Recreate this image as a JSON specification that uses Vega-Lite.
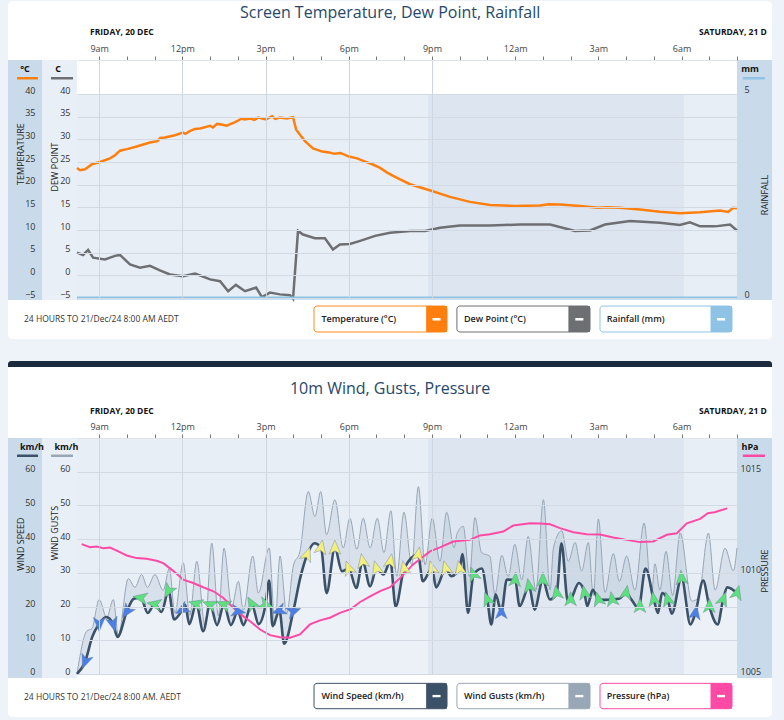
{
"$schema": "https://vega.github.io/schema/vega-lite/v6.json",
"background": "#eef2f9",
"padding": {"left": 8, "top": 0, "right": 12, "bottom": 4},
"config": {"view": {"stroke": null}, "font": "Open Sans", "axis": {"labelFont": "Open Sans"}},
"datasets": {
"one": [{}],
"temp": [{"h":8.2,"t":23.7},{"h":8.31,"t":23.2},{"h":8.49,"t":23.4},{"h":8.74,"t":24.5},{"h":9.03,"t":25.0},{"h":9.39,"t":25.8},{"h":9.57,"t":26.5},{"h":9.75,"t":27.5},{"h":10.04,"t":27.9},{"h":10.29,"t":28.3},{"h":10.83,"t":29.3},{"h":11.1,"t":29.6},{"h":11.2,"t":30.3},{"h":11.37,"t":30.4},{"h":11.73,"t":30.9},{"h":12.02,"t":31.5},{"h":12.1,"t":31.2},{"h":12.27,"t":31.8},{"h":12.45,"t":32.3},{"h":12.64,"t":32.4},{"h":13.0,"t":33.0},{"h":13.1,"t":32.6},{"h":13.25,"t":33.4},{"h":13.45,"t":33.2},{"h":13.6,"t":33.0},{"h":13.9,"t":33.8},{"h":14.15,"t":34.6},{"h":14.25,"t":34.4},{"h":14.44,"t":34.6},{"h":14.6,"t":34.3},{"h":14.73,"t":34.8},{"h":15.02,"t":34.4},{"h":15.23,"t":35.1},{"h":15.35,"t":34.5},{"h":15.52,"t":34.8},{"h":15.77,"t":34.6},{"h":15.99,"t":34.9},{"h":16.1,"t":32.2},{"h":16.24,"t":31.0},{"h":16.42,"t":29.6},{"h":16.71,"t":28.0},{"h":17.04,"t":27.3},{"h":17.3,"t":27.1},{"h":17.5,"t":26.8},{"h":17.7,"t":27.0},{"h":18.01,"t":26.2},{"h":18.3,"t":25.8},{"h":18.59,"t":25.1},{"h":18.85,"t":24.5},{"h":19.13,"t":23.7},{"h":19.4,"t":22.6},{"h":19.67,"t":21.7},{"h":20.21,"t":20.1},{"h":21.0,"t":18.6},{"h":21.65,"t":17.3},{"h":22.37,"t":16.2},{"h":23.09,"t":15.5},{"h":23.99,"t":15.3},{"h":24.9,"t":15.4},{"h":25.2,"t":15.7},{"h":25.62,"t":15.6},{"h":26.34,"t":15.3},{"h":26.99,"t":14.9},{"h":27.3,"t":15.0},{"h":27.78,"t":14.9},{"h":28.5,"t":14.5},{"h":29.22,"t":14.0},{"h":29.94,"t":13.7},{"h":30.67,"t":13.9},{"h":31.39,"t":14.3},{"h":31.68,"t":14.0},{"h":31.86,"t":14.9},{"h":32.0,"t":14.8}],
"dew": [{"h":8.2,"d":5.0},{"h":8.42,"d":4.5},{"h":8.6,"d":5.6},{"h":8.78,"d":3.9},{"h":9.21,"d":3.5},{"h":9.57,"d":4.3},{"h":9.75,"d":4.5},{"h":10.11,"d":2.4},{"h":10.47,"d":1.7},{"h":10.83,"d":2.1},{"h":11.19,"d":1.1},{"h":11.55,"d":0.2},{"h":12.02,"d":-0.2},{"h":12.46,"d":0.4},{"h":13.0,"d":-0.9},{"h":13.36,"d":-1.3},{"h":13.65,"d":-3.5},{"h":13.93,"d":-2.1},{"h":14.26,"d":-3.5},{"h":14.66,"d":-2.7},{"h":14.87,"d":-4.8},{"h":15.16,"d":-3.8},{"h":15.52,"d":-4.2},{"h":15.88,"d":-4.4},{"h":15.99,"d":-5.2},{"h":16.17,"d":9.8},{"h":16.35,"d":9.0},{"h":16.78,"d":8.2},{"h":17.14,"d":8.2},{"h":17.43,"d":5.7},{"h":17.68,"d":6.8},{"h":18.04,"d":6.9},{"h":18.41,"d":7.6},{"h":18.95,"d":8.7},{"h":19.49,"d":9.4},{"h":20.21,"d":9.8},{"h":20.75,"d":9.8},{"h":21.29,"d":10.5},{"h":22.01,"d":11.0},{"h":23.09,"d":11.0},{"h":24.18,"d":11.2},{"h":25.26,"d":11.2},{"h":26.16,"d":9.8},{"h":26.7,"d":9.9},{"h":27.24,"d":11.2},{"h":28.14,"d":12.0},{"h":29.22,"d":11.6},{"h":29.94,"d":11.1},{"h":30.3,"d":11.7},{"h":30.67,"d":10.8},{"h":31.21,"d":10.8},{"h":31.75,"d":11.2},{"h":32.0,"d":9.9}],
"rain": [{"h":8.2,"r":0},{"h":32.0,"r":0}],
"speed": [{"h":8.2,"s":0},{"h":8.5,"s":3.8},{"h":8.75,"s":11},{"h":9.0,"s":14.9},{"h":9.25,"s":16.9},{"h":9.5,"s":14.9},{"h":9.66,"s":11},{"h":10.0,"s":18.6},{"h":10.25,"s":22.3},{"h":10.5,"s":22.6},{"h":10.75,"s":18.1},{"h":11.0,"s":20.7},{"h":11.25,"s":18.4},{"h":11.5,"s":24.7},{"h":11.7,"s":16.2},{"h":12.0,"s":19.1},{"h":12.1,"s":20.5},{"h":12.25,"s":14.8},{"h":12.5,"s":20.8},{"h":12.75,"s":12.7},{"h":13.0,"s":20.6},{"h":13.25,"s":14.5},{"h":13.5,"s":20.6},{"h":13.75,"s":14.5},{"h":14.0,"s":18.6},{"h":14.2,"s":14.5},{"h":14.5,"s":20.8},{"h":14.75,"s":14.8},{"h":15.0,"s":20.6},{"h":15.13,"s":27.7},{"h":15.25,"s":14.2},{"h":15.5,"s":18.8},{"h":15.67,"s":9},{"h":16.0,"s":18.6},{"h":16.25,"s":28.5},{"h":16.5,"s":35.4},{"h":16.76,"s":38.8},{"h":17.0,"s":37.5},{"h":17.2,"s":24},{"h":17.5,"s":37.4},{"h":17.75,"s":30.5},{"h":18.0,"s":31.3},{"h":18.27,"s":25.5},{"h":18.5,"s":33.4},{"h":18.77,"s":26},{"h":19.0,"s":31.3},{"h":19.25,"s":29.5},{"h":19.5,"s":33.4},{"h":19.69,"s":20},{"h":20.0,"s":31.3},{"h":20.5,"s":35.4},{"h":20.67,"s":27.5},{"h":21.0,"s":31.3},{"h":21.15,"s":25.7},{"h":21.5,"s":31.3},{"h":21.7,"s":29},{"h":22.0,"s":31.3},{"h":22.1,"s":35.6},{"h":22.3,"s":18.1},{"h":22.5,"s":29.5},{"h":22.8,"s":31.3},{"h":23.0,"s":22.1},{"h":23.14,"s":14.7},{"h":23.3,"s":23.6},{"h":23.5,"s":18.3},{"h":23.7,"s":28},{"h":24.0,"s":27.9},{"h":24.16,"s":20.1},{"h":24.5,"s":26},{"h":24.7,"s":19.1},{"h":25.0,"s":27.9},{"h":25.25,"s":22.1},{"h":25.5,"s":24},{"h":25.67,"s":38.8},{"h":25.9,"s":21.6},{"h":26.0,"s":22.1},{"h":26.3,"s":27},{"h":26.5,"s":24},{"h":26.6,"s":20.1},{"h":26.8,"s":25},{"h":27.0,"s":22.1},{"h":27.25,"s":22},{"h":27.5,"s":22.1},{"h":27.75,"s":22.3},{"h":28.0,"s":24},{"h":28.2,"s":22},{"h":28.45,"s":19.5},{"h":28.7,"s":31.3},{"h":29.0,"s":22.1},{"h":29.15,"s":18.1},{"h":29.3,"s":24},{"h":29.5,"s":22.1},{"h":29.65,"s":17.9},{"h":30.0,"s":28.5},{"h":30.32,"s":14.7},{"h":30.5,"s":18.1},{"h":30.78,"s":27.7},{"h":31.0,"s":20.1},{"h":31.3,"s":14.7},{"h":31.5,"s":22.1},{"h":31.65,"s":25.7},{"h":32.0,"s":24}],
"gust": [{"h":8.2,"g":0},{"h":8.55,"g":12.7},{"h":8.74,"g":13.5},{"h":9.0,"g":22.1},{"h":9.27,"g":16.7},{"h":9.51,"g":22.1},{"h":9.69,"g":11.5},{"h":10.05,"g":28.3},{"h":10.29,"g":25.7},{"h":10.53,"g":29.5},{"h":10.74,"g":25.7},{"h":11.01,"g":29.5},{"h":11.31,"g":24.8},{"h":11.53,"g":31.3},{"h":11.73,"g":18.1},{"h":12.03,"g":33},{"h":12.27,"g":17.4},{"h":12.52,"g":33.4},{"h":12.82,"g":14},{"h":13.06,"g":38.8},{"h":13.3,"g":17.2},{"h":13.5,"g":37.3},{"h":13.78,"g":20},{"h":14.02,"g":27.5},{"h":14.2,"g":19},{"h":14.54,"g":35},{"h":14.74,"g":24},{"h":15.13,"g":37.4},{"h":15.34,"g":14.4},{"h":15.52,"g":35},{"h":15.76,"g":18},{"h":16.0,"g":32},{"h":16.24,"g":36.4},{"h":16.54,"g":54.1},{"h":16.78,"g":46.7},{"h":16.99,"g":54.1},{"h":17.2,"g":41.3},{"h":17.5,"g":51.7},{"h":17.8,"g":37.4},{"h":18.04,"g":46.2},{"h":18.29,"g":37},{"h":18.52,"g":46.2},{"h":18.77,"g":37.4},{"h":19.03,"g":46.2},{"h":19.27,"g":36},{"h":19.52,"g":48.4},{"h":19.73,"g":29},{"h":19.99,"g":48},{"h":20.27,"g":32.4},{"h":20.51,"g":55.6},{"h":20.75,"g":32.4},{"h":21.01,"g":46.2},{"h":21.29,"g":33.4},{"h":21.53,"g":48},{"h":21.8,"g":37.4},{"h":21.9,"g":41.5},{"h":22.13,"g":43.8},{"h":22.35,"g":28.9},{"h":22.55,"g":46.4},{"h":22.79,"g":36},{"h":23.09,"g":34.9},{"h":23.27,"g":23.6},{"h":23.52,"g":35.2},{"h":23.75,"g":28.9},{"h":23.99,"g":38.5},{"h":24.24,"g":27.9},{"h":24.47,"g":40.8},{"h":24.75,"g":24.9},{"h":25.02,"g":51.7},{"h":25.26,"g":24.9},{"h":25.38,"g":37.4},{"h":25.68,"g":42.5},{"h":25.92,"g":33.4},{"h":26.16,"g":39},{"h":26.4,"g":30.6},{"h":26.64,"g":39},{"h":26.82,"g":23.3},{"h":27.0,"g":46},{"h":27.24,"g":24.2},{"h":27.54,"g":35.7},{"h":27.76,"g":27.5},{"h":28.02,"g":35},{"h":28.32,"g":24.9},{"h":28.65,"g":44.8},{"h":28.92,"g":23.6},{"h":29.04,"g":32.7},{"h":29.22,"g":24.9},{"h":29.44,"g":36.4},{"h":29.68,"g":23.3},{"h":29.95,"g":41.8},{"h":30.37,"g":21.6},{"h":30.61,"g":22.6},{"h":30.97,"g":41.8},{"h":31.21,"g":24.9},{"h":31.57,"g":37.3},{"h":31.87,"g":30.6},{"h":32.0,"g":37.4}],
"arrows": [{"h":8.5,"s":3.8,"dir":200},{"h":9.0,"s":14.9,"dir":180},{"h":9.5,"s":14.9,"dir":165},{"h":10.0,"s":18.6,"dir":215},{"h":10.5,"s":22.6,"dir":280},{"h":11.0,"s":20.7,"dir":280},{"h":11.5,"s":24.7,"dir":210},{"h":12.0,"s":19.1,"dir":240},{"h":12.5,"s":20.8,"dir":285},{"h":13.0,"s":20.6,"dir":290},{"h":13.5,"s":20.6,"dir":290},{"h":14.0,"s":18.6,"dir":100},{"h":14.5,"s":20.8,"dir":330},{"h":15.0,"s":20.6,"dir":110},{"h":15.5,"s":18.8,"dir":250},{"h":16.0,"s":18.6,"dir":70},{"h":16.5,"s":35.4,"dir":20},{"h":17.0,"s":37.5,"dir":10},{"h":17.5,"s":37.4,"dir":0},{"h":18.0,"s":31.3,"dir":340},{"h":18.5,"s":33.4,"dir":350},{"h":19.0,"s":31.3,"dir":345},{"h":19.5,"s":33.4,"dir":10},{"h":20.0,"s":31.3,"dir":350},{"h":20.5,"s":35.4,"dir":10},{"h":21.0,"s":31.3,"dir":345},{"h":21.5,"s":31.3,"dir":345},{"h":22.0,"s":31.3,"dir":350},{"h":22.5,"s":29.5,"dir":340},{"h":23.0,"s":22.1,"dir":340},{"h":23.5,"s":18.3,"dir":0},{"h":24.0,"s":27.9,"dir":5},{"h":24.5,"s":26,"dir":350},{"h":25.0,"s":27.9,"dir":0},{"h":25.5,"s":24,"dir":350},{"h":26.0,"s":22.1,"dir":0},{"h":26.5,"s":24,"dir":350},{"h":27.0,"s":22.1,"dir":345},{"h":27.5,"s":22.1,"dir":350},{"h":28.0,"s":24,"dir":10},{"h":28.5,"s":20.1,"dir":0},{"h":29.0,"s":22.1,"dir":350},{"h":29.5,"s":22.1,"dir":345},{"h":30.0,"s":28.5,"dir":355},{"h":30.5,"s":18.1,"dir":10},{"h":31.0,"s":20.1,"dir":0},{"h":31.5,"s":22.1,"dir":20},{"h":32.0,"s":24,"dir":15}],
"pres": [{"h":8.37,"p":1011.42},{"h":8.67,"p":1011.27},{"h":8.91,"p":1011.3},{"h":9.15,"p":1011.22},{"h":9.39,"p":1011.25},{"h":9.69,"p":1011.06},{"h":9.99,"p":1010.86},{"h":10.35,"p":1010.73},{"h":10.71,"p":1010.7},{"h":11.07,"p":1010.6},{"h":11.31,"p":1010.48},{"h":11.67,"p":1010.1},{"h":12.03,"p":1009.66},{"h":12.39,"p":1009.5},{"h":12.75,"p":1009.29},{"h":13.12,"p":1009.09},{"h":13.48,"p":1008.76},{"h":13.72,"p":1008.43},{"h":14.08,"p":1007.97},{"h":14.44,"p":1007.61},{"h":14.8,"p":1007.2},{"h":15.16,"p":1006.92},{"h":15.52,"p":1006.82},{"h":15.88,"p":1006.79},{"h":16.24,"p":1006.96},{"h":16.6,"p":1007.45},{"h":16.96,"p":1007.65},{"h":17.32,"p":1007.78},{"h":17.68,"p":1008.02},{"h":18.05,"p":1008.19},{"h":18.41,"p":1008.56},{"h":18.77,"p":1008.84},{"h":19.13,"p":1009.1},{"h":19.49,"p":1009.29},{"h":19.85,"p":1009.74},{"h":20.33,"p":1010.43},{"h":20.93,"p":1011.06},{"h":21.29,"p":1011.26},{"h":21.77,"p":1011.55},{"h":22.37,"p":1011.63},{"h":22.73,"p":1011.85},{"h":23.09,"p":1011.91},{"h":23.57,"p":1012.04},{"h":23.93,"p":1012.34},{"h":24.54,"p":1012.45},{"h":24.9,"p":1012.44},{"h":25.26,"p":1012.4},{"h":25.62,"p":1012.21},{"h":26.1,"p":1012.01},{"h":26.58,"p":1011.91},{"h":27.06,"p":1011.9},{"h":27.54,"p":1011.75},{"h":28.02,"p":1011.63},{"h":28.5,"p":1011.52},{"h":28.98,"p":1011.55},{"h":29.47,"p":1011.88},{"h":29.83,"p":1011.96},{"h":30.19,"p":1012.45},{"h":30.67,"p":1012.67},{"h":30.95,"p":1012.95},{"h":31.19,"p":1013.0},{"h":31.65,"p":1013.19}]
},
"vconcat": [
{
"width": 660, "height": 238,
"layer": [
{
"layer": [
{"data": {"name": "one"}, "mark": {"type": "rect", "fill": "#ffffff", "cornerRadius": 4}, "encoding": {"x": {"datum": 5.712, "type": "quantitative", "scale": {"domain": [8.2, 32], "nice": false, "zero": false}, "axis": null}, "x2": {"datum": 33.263}, "y": {"datum": 60.52, "type": "quantitative", "scale": {"domain": [-5, 47.5], "nice": false, "zero": false}, "axis": null}, "y2": {"datum": -14.05}}},
{"data": {"name": "one"}, "mark": {"type": "rect", "fill": "#c9dbea"}, "encoding": {"x": {"datum": 5.712, "type": "quantitative", "axis": null}, "x2": {"datum": 6.938}, "y": {"datum": 47.5, "type": "quantitative", "axis": null}, "y2": {"datum": -5.44}}},
{"data": {"name": "one"}, "mark": {"type": "rect", "fill": "#e9eff7"}, "encoding": {"x": {"datum": 6.938, "type": "quantitative", "axis": null}, "x2": {"datum": 8.2}, "y": {"datum": 47.5, "type": "quantitative", "axis": null}, "y2": {"datum": -5.44}}},
{"data": {"name": "one"}, "mark": {"type": "rect", "fill": "#c9dbea"}, "encoding": {"x": {"datum": 32.0, "type": "quantitative", "axis": null}, "x2": {"datum": 33.263}, "y": {"datum": 47.5, "type": "quantitative", "axis": null}, "y2": {"datum": -5.44}}},
{"data": {"name": "one"}, "mark": {"type": "rect", "fill": "#e8eef6"}, "encoding": {"x": {"datum": 8.2, "type": "quantitative", "axis": null}, "x2": {"datum": 32.0}, "y": {"datum": 40, "type": "quantitative", "axis": null}, "y2": {"datum": -5}}},
{"data": {"name": "one"}, "mark": {"type": "rect", "fill": "#96abc2", "opacity": 0.12}, "encoding": {"x": {"datum": 20.858, "type": "quantitative", "axis": null}, "x2": {"datum": 30.09}, "y": {"datum": 40, "type": "quantitative", "axis": null}, "y2": {"datum": -5}}},
{"data": {"name": "temp"}, "mark": {"type": "line", "stroke": "#ff7f0e", "strokeWidth": 2.5}, "encoding": {
  "x": {"field": "h", "type": "quantitative", "scale": {"domain": [8.2, 32], "nice": false, "zero": false}, "axis": {"orient": "top", "values": [9,10,11,12,13,14,15,16,17,18,19,20,21,22,23,24,25,26,27,28,29,30,31,32], "labelExpr": "datum.value % 3 != 0 ? '' : (datum.value % 24 == 0 ? '12am' : datum.value % 24 == 12 ? '12pm' : (datum.value % 12) + (datum.value % 24 < 12 ? 'am' : 'pm'))", "labelOverlap": false, "labelFlush": false, "labelFontSize": 9, "labelColor": "#444", "labelPadding": 3, "tickSize": 4, "tickColor": "#777", "domain": true, "domainColor": "#dfe4ea", "grid": true, "gridColor": {"condition": {"test": "datum.value % 3 == 0 && datum.value <= 21", "value": "#cfd6df"}, "value": "rgba(0,0,0,0)"}, "title": null, "zindex": 1}},
  "y": {"field": "t", "type": "quantitative", "scale": {"domain": [-5, 47.5], "nice": false, "zero": false}, "axis": {"orient": "left", "offset": 35, "values": [-5,0,5,10,15,20,25,30,35,40], "domain": false, "ticks": false, "tickSize": 0, "grid": false, "labelPadding": 7, "labelOffset": -4, "labelFontSize": 9, "labelColor": "#333", "title": null, "zindex": 1}}}},
{"data": {"name": "dew"}, "mark": {"type": "line", "stroke": "#6d6f72", "strokeWidth": 2.5}, "encoding": {
  "x": {"field": "h", "type": "quantitative", "axis": null},
  "y": {"field": "d", "type": "quantitative", "axis": {"orient": "left", "offset": 0, "values": [-5,0,5,10,15,20,25,30,35,40], "domain": false, "ticks": false, "tickSize": 0, "grid": true, "gridColor": "#d3dae3", "labelPadding": 7, "labelOffset": -4, "labelFontSize": 9, "labelColor": "#333", "title": null, "zindex": 1}}}},
{"data": {"name": "one"}, "mark": {"type": "text", "text": "Screen Temperature, Dew Point, Rainfall", "fontSize": 16, "color": "#28486b", "align": "center", "baseline": "middle"}, "encoding": {"x": {"datum": 19.49, "type": "quantitative", "axis": null}, "y": {"datum": 57.87, "type": "quantitative", "axis": null}}},
{"data": {"name": "one"}, "mark": {"type": "text", "text": "FRIDAY, 20 DEC", "fontSize": 8.5, "fontWeight": "bold", "color": "#111", "align": "left", "baseline": "middle"}, "encoding": {"x": {"datum": 8.669, "type": "quantitative", "axis": null}, "y": {"datum": 53.68, "type": "quantitative", "axis": null}}},
{"data": {"name": "one"}, "mark": {"type": "text", "text": "SATURDAY, 21 DEC", "fontSize": 8.5, "fontWeight": "bold", "color": "#111", "align": "left", "baseline": "middle", "limit": 71.5, "ellipsis": "\u200b"}, "encoding": {"x": {"datum": 30.63, "type": "quantitative", "axis": null}, "y": {"datum": 53.68, "type": "quantitative", "axis": null}}},
{"data": {"name": "one"}, "mark": {"type": "text", "text": "°C", "fontSize": 9, "fontWeight": "bold", "color": "#111", "align": "center", "baseline": "middle"}, "encoding": {"x": {"datum": 6.325, "type": "quantitative", "axis": null}, "y": {"datum": 45.51, "type": "quantitative", "axis": null}}},
{"data": {"name": "one"}, "mark": {"type": "rect", "fill": "#ff7f0e"}, "encoding": {"x": {"datum": 6.036, "type": "quantitative", "axis": null}, "x2": {"datum": 6.794}, "y": {"datum": 43.75, "type": "quantitative", "axis": null}, "y2": {"datum": 43.2}}},
{"data": {"name": "one"}, "mark": {"type": "text", "text": "C", "fontSize": 9, "fontWeight": "bold", "color": "#111", "align": "center", "baseline": "middle"}, "encoding": {"x": {"datum": 7.515, "type": "quantitative", "axis": null}, "y": {"datum": 45.51, "type": "quantitative", "axis": null}}},
{"data": {"name": "one"}, "mark": {"type": "rect", "fill": "#6d6f72"}, "encoding": {"x": {"datum": 7.262, "type": "quantitative", "axis": null}, "x2": {"datum": 8.056}, "y": {"datum": 43.75, "type": "quantitative", "axis": null}, "y2": {"datum": 43.2}}},
{"data": {"name": "one"}, "mark": {"type": "text", "text": "mm", "fontSize": 9, "fontWeight": "bold", "color": "#111", "align": "center", "baseline": "middle"}, "encoding": {"x": {"datum": 32.47, "type": "quantitative", "axis": null}, "y": {"datum": 45.51, "type": "quantitative", "axis": null}}},
{"data": {"name": "one"}, "mark": {"type": "rect", "fill": "#8ec3e6"}, "encoding": {"x": {"datum": 32.21, "type": "quantitative", "axis": null}, "x2": {"datum": 33.01}, "y": {"datum": 43.75, "type": "quantitative", "axis": null}, "y2": {"datum": 43.2}}},
{"data": {"name": "one"}, "mark": {"type": "text", "text": "TEMPERATURE", "fontSize": 9, "color": "#222", "align": "center", "baseline": "middle", "angle": 270}, "encoding": {"x": {"datum": 6.18, "type": "quantitative", "axis": null}, "y": {"datum": 26.76, "type": "quantitative", "axis": null}}},
{"data": {"name": "one"}, "mark": {"type": "text", "text": "DEW POINT", "fontSize": 9, "color": "#222", "align": "center", "baseline": "middle", "angle": 270}, "encoding": {"x": {"datum": 7.407, "type": "quantitative", "axis": null}, "y": {"datum": 23.9, "type": "quantitative", "axis": null}}},
{"data": {"name": "one"}, "mark": {"type": "text", "text": "RAINFALL", "fontSize": 9, "color": "#222", "align": "center", "baseline": "middle", "angle": 270}, "encoding": {"x": {"datum": 33.01, "type": "quantitative", "axis": null}, "y": {"datum": 17.72, "type": "quantitative", "axis": null}}},
{"data": {"name": "one"}, "mark": {"type": "text", "text": "24 HOURS TO 21/Dec/24 8:00 AM AEDT", "fontSize": 8.5, "color": "#333", "align": "left", "baseline": "middle"}, "encoding": {"x": {"datum": 6.289, "type": "quantitative", "axis": null}, "y": {"datum": -9.64, "type": "quantitative", "axis": null}}},
{"data": {"name": "one"}, "mark": {"type": "rect", "fill": "#ffffff", "stroke": "#ff8a1f", "strokeWidth": 1, "cornerRadius": 3}, "encoding": {"x": {"datum": 16.747, "type": "quantitative", "axis": null}, "x2": {"datum": 21.543}, "y": {"datum": -6.77, "type": "quantitative", "axis": null}, "y2": {"datum": -12.5}}},
{"data": {"name": "one"}, "mark": {"type": "rect", "fill": "#ffffff", "stroke": "#6d6f72", "strokeWidth": 1, "cornerRadius": 3}, "encoding": {"x": {"datum": 21.9, "type": "quantitative", "axis": null}, "x2": {"datum": 26.7}, "y": {"datum": -6.77, "type": "quantitative", "axis": null}, "y2": {"datum": -12.5}}},
{"data": {"name": "one"}, "mark": {"type": "rect", "fill": "#ffffff", "stroke": "#8ec3e6", "strokeWidth": 1, "cornerRadius": 3}, "encoding": {"x": {"datum": 27.06, "type": "quantitative", "axis": null}, "x2": {"datum": 31.82}, "y": {"datum": -6.77, "type": "quantitative", "axis": null}, "y2": {"datum": -12.5}}},
{"data": {"name": "one"}, "mark": {"type": "rect", "fill": "#ff7f0e"}, "encoding": {"x": {"datum": 20.79, "type": "quantitative", "axis": null}, "x2": {"datum": 21.543}, "y": {"datum": -6.77, "type": "quantitative", "axis": null}, "y2": {"datum": -12.5}}},
{"data": {"name": "one"}, "mark": {"type": "rect", "fill": "#6d6f72"}, "encoding": {"x": {"datum": 25.92, "type": "quantitative", "axis": null}, "x2": {"datum": 26.7}, "y": {"datum": -6.77, "type": "quantitative", "axis": null}, "y2": {"datum": -12.5}}},
{"data": {"name": "one"}, "mark": {"type": "rect", "fill": "#8ec3e6"}, "encoding": {"x": {"datum": 31.045, "type": "quantitative", "axis": null}, "x2": {"datum": 31.82}, "y": {"datum": -6.77, "type": "quantitative", "axis": null}, "y2": {"datum": -12.5}}},
{"data": {"name": "one"}, "mark": {"type": "rect", "fill": "#ffffff"}, "encoding": {"x": {"datum": 21.02, "type": "quantitative", "axis": null}, "x2": {"datum": 21.31}, "y": {"datum": -9.42, "type": "quantitative", "axis": null}, "y2": {"datum": -9.97}}},
{"data": {"name": "one"}, "mark": {"type": "rect", "fill": "#ffffff"}, "encoding": {"x": {"datum": 26.17, "type": "quantitative", "axis": null}, "x2": {"datum": 26.46}, "y": {"datum": -9.42, "type": "quantitative", "axis": null}, "y2": {"datum": -9.97}}},
{"data": {"name": "one"}, "mark": {"type": "rect", "fill": "#ffffff"}, "encoding": {"x": {"datum": 31.28, "type": "quantitative", "axis": null}, "x2": {"datum": 31.57}, "y": {"datum": -9.42, "type": "quantitative", "axis": null}, "y2": {"datum": -9.97}}},
{"data": {"name": "one"}, "mark": {"type": "text", "text": "Temperature (°C)", "fontSize": 9, "fontWeight": 600, "color": "#222", "align": "left", "baseline": "middle"}, "encoding": {"x": {"datum": 17.017, "type": "quantitative", "axis": null}, "y": {"datum": -9.64, "type": "quantitative", "axis": null}}},
{"data": {"name": "one"}, "mark": {"type": "text", "text": "Dew Point (°C)", "fontSize": 9, "fontWeight": 600, "color": "#222", "align": "left", "baseline": "middle"}, "encoding": {"x": {"datum": 22.156, "type": "quantitative", "axis": null}, "y": {"datum": -9.64, "type": "quantitative", "axis": null}}},
{"data": {"name": "one"}, "mark": {"type": "text", "text": "Rainfall (mm)", "fontSize": 9, "fontWeight": 600, "color": "#222", "align": "left", "baseline": "middle"}, "encoding": {"x": {"datum": 27.3, "type": "quantitative", "axis": null}, "y": {"datum": -9.64, "type": "quantitative", "axis": null}}}
],
"resolve": {"axis": {"x": "independent", "y": "independent"}}
},
{"data": {"name": "rain"}, "mark": {"type": "line", "stroke": "#8ec3e6", "strokeWidth": 3}, "encoding": {
  "x": {"field": "h", "type": "quantitative", "axis": null},
  "y": {"field": "r", "type": "quantitative", "scale": {"domain": [0, 5.8333], "nice": false, "zero": false}, "axis": {"orient": "right", "values": [0, 5], "domain": false, "ticks": false, "tickSize": 0, "grid": false, "labelPadding": 7, "labelOffset": -4, "labelFontSize": 9, "labelColor": "#333", "title": null, "zindex": 1}}}}
],
"resolve": {"scale": {"y": "independent"}, "axis": {"x": "independent"}}
},
{
"width": 660, "height": 236,
"layer": [
{
"layer": [
{"data": {"name": "one"}, "mark": {"type": "rect", "fill": "#ffffff", "cornerRadius": 4}, "encoding": {"x": {"datum": 5.712, "type": "quantitative", "scale": {"domain": [8.2, 32], "nice": false, "zero": false}, "axis": null}, "x2": {"datum": 33.263}, "y": {"datum": 92.84, "type": "quantitative", "scale": {"domain": [0, 70], "nice": false, "zero": false}, "axis": null}, "y2": {"datum": -12.77}}},
{"data": {"name": "one"}, "mark": {"type": "rect", "fill": "#1b2a3d", "cornerRadiusTopLeft": 4, "cornerRadiusTopRight": 4}, "encoding": {"x": {"datum": 5.712, "type": "quantitative", "axis": null}, "x2": {"datum": 33.263}, "y": {"datum": 92.84, "type": "quantitative", "axis": null}, "y2": {"datum": 91.06}}},
{"data": {"name": "one"}, "mark": {"type": "rect", "fill": "#c9dbea"}, "encoding": {"x": {"datum": 5.712, "type": "quantitative", "axis": null}, "x2": {"datum": 6.938}, "y": {"datum": 70, "type": "quantitative", "axis": null}, "y2": {"datum": -1.2}}},
{"data": {"name": "one"}, "mark": {"type": "rect", "fill": "#e9eff7"}, "encoding": {"x": {"datum": 6.938, "type": "quantitative", "axis": null}, "x2": {"datum": 8.2}, "y": {"datum": 70, "type": "quantitative", "axis": null}, "y2": {"datum": -1.2}}},
{"data": {"name": "one"}, "mark": {"type": "rect", "fill": "#c9dbea"}, "encoding": {"x": {"datum": 32.0, "type": "quantitative", "axis": null}, "x2": {"datum": 33.263}, "y": {"datum": 70, "type": "quantitative", "axis": null}, "y2": {"datum": -1.2}}},
{"data": {"name": "one"}, "mark": {"type": "rect", "fill": "#e8eef6"}, "encoding": {"x": {"datum": 8.2, "type": "quantitative", "axis": null}, "x2": {"datum": 32.0}, "y": {"datum": 70, "type": "quantitative", "axis": null}, "y2": {"datum": 0}}},
{"data": {"name": "gust"}, "mark": {"type": "area", "orient": "vertical", "interpolate": "monotone", "fill": "#d7e0eb"}, "encoding": {"x": {"field": "h", "type": "quantitative", "axis": null}, "y": {"field": "g", "type": "quantitative", "axis": null}, "y2": {"datum": 0}}},
{"data": {"name": "speed"}, "mark": {"type": "area", "orient": "vertical", "interpolate": "monotone", "fill": "#ecf1f8"}, "encoding": {"x": {"field": "h", "type": "quantitative", "axis": null}, "y": {"field": "s", "type": "quantitative", "axis": null}, "y2": {"datum": 0}}},
{"data": {"name": "one"}, "mark": {"type": "rect", "fill": "#96abc2", "opacity": 0.12}, "encoding": {"x": {"datum": 20.858, "type": "quantitative", "axis": null}, "x2": {"datum": 30.09}, "y": {"datum": 70, "type": "quantitative", "axis": null}, "y2": {"datum": 0}}},
{"data": {"name": "gust"}, "mark": {"type": "line", "interpolate": "monotone", "stroke": "#96a6b6", "strokeWidth": 1}, "encoding": {
  "x": {"field": "h", "type": "quantitative", "axis": null},
  "y": {"field": "g", "type": "quantitative", "axis": {"orient": "left", "offset": 0, "values": [0,10,20,30,40,50,60], "domain": false, "ticks": false, "tickSize": 0, "grid": true, "gridColor": "#d3dae3", "labelPadding": 7, "labelOffset": -3, "labelFontSize": 9, "labelColor": "#333", "title": null, "zindex": 1}}}},
{"data": {"name": "speed"}, "mark": {"type": "line", "interpolate": "monotone", "stroke": "#3b5168", "strokeWidth": 2.6}, "encoding": {
  "x": {"field": "h", "type": "quantitative", "scale": {"domain": [8.2, 32], "nice": false, "zero": false}, "axis": {"orient": "top", "values": [9,10,11,12,13,14,15,16,17,18,19,20,21,22,23,24,25,26,27,28,29,30,31,32], "labelExpr": "datum.value % 3 != 0 ? '' : (datum.value % 24 == 0 ? '12am' : datum.value % 24 == 12 ? '12pm' : (datum.value % 12) + (datum.value % 24 < 12 ? 'am' : 'pm'))", "labelOverlap": false, "labelFlush": false, "labelFontSize": 9, "labelColor": "#444", "labelPadding": 3, "tickSize": 4, "tickColor": "#777", "domain": true, "domainColor": "#dfe4ea", "grid": true, "gridColor": {"condition": {"test": "datum.value % 3 == 0 && datum.value <= 21", "value": "#cfd6df"}, "value": "rgba(0,0,0,0)"}, "title": null, "zindex": 1}},
  "y": {"field": "s", "type": "quantitative", "scale": {"domain": [0, 70], "nice": false, "zero": false}, "axis": {"orient": "left", "offset": 35, "values": [0,10,20,30,40,50,60], "domain": false, "ticks": false, "tickSize": 0, "grid": false, "labelPadding": 7, "labelOffset": -3, "labelFontSize": 9, "labelColor": "#333", "title": null, "zindex": 1}}}},
{"data": {"name": "one"}, "mark": {"type": "text", "text": "10m Wind, Gusts, Pressure", "fontSize": 16, "color": "#28486b", "align": "center", "baseline": "middle"}, "encoding": {"x": {"datum": 19.49, "type": "quantitative", "axis": null}, "y": {"datum": 84.54, "type": "quantitative", "axis": null}}},
{"data": {"name": "one"}, "mark": {"type": "text", "text": "FRIDAY, 20 DEC", "fontSize": 8.5, "fontWeight": "bold", "color": "#111", "align": "left", "baseline": "middle"}, "encoding": {"x": {"datum": 8.669, "type": "quantitative", "axis": null}, "y": {"datum": 78.0, "type": "quantitative", "axis": null}}},
{"data": {"name": "one"}, "mark": {"type": "text", "text": "SATURDAY, 21 DEC", "fontSize": 8.5, "fontWeight": "bold", "color": "#111", "align": "left", "baseline": "middle", "limit": 71.5, "ellipsis": "\u200b"}, "encoding": {"x": {"datum": 30.63, "type": "quantitative", "axis": null}, "y": {"datum": 78.0, "type": "quantitative", "axis": null}}},
{"data": {"name": "one"}, "mark": {"type": "text", "text": "km/h", "fontSize": 9, "fontWeight": "bold", "color": "#111", "align": "center", "baseline": "middle"}, "encoding": {"x": {"datum": 6.577, "type": "quantitative", "axis": null}, "y": {"datum": 67.33, "type": "quantitative", "axis": null}}},
{"data": {"name": "one"}, "mark": {"type": "rect", "fill": "#3b5168"}, "encoding": {"x": {"datum": 6.036, "type": "quantitative", "axis": null}, "x2": {"datum": 6.794}, "y": {"datum": 65.1, "type": "quantitative", "axis": null}, "y2": {"datum": 64.36}}},
{"data": {"name": "one"}, "mark": {"type": "text", "text": "km/h", "fontSize": 9, "fontWeight": "bold", "color": "#111", "align": "center", "baseline": "middle"}, "encoding": {"x": {"datum": 7.82, "type": "quantitative", "axis": null}, "y": {"datum": 67.33, "type": "quantitative", "axis": null}}},
{"data": {"name": "one"}, "mark": {"type": "rect", "fill": "#98a7b6"}, "encoding": {"x": {"datum": 7.262, "type": "quantitative", "axis": null}, "x2": {"datum": 8.056}, "y": {"datum": 65.1, "type": "quantitative", "axis": null}, "y2": {"datum": 64.36}}},
{"data": {"name": "one"}, "mark": {"type": "text", "text": "hPa", "fontSize": 9, "fontWeight": "bold", "color": "#111", "align": "center", "baseline": "middle"}, "encoding": {"x": {"datum": 32.47, "type": "quantitative", "axis": null}, "y": {"datum": 67.33, "type": "quantitative", "axis": null}}},
{"data": {"name": "one"}, "mark": {"type": "rect", "fill": "#ff4aa5"}, "encoding": {"x": {"datum": 32.21, "type": "quantitative", "axis": null}, "x2": {"datum": 33.01}, "y": {"datum": 65.1, "type": "quantitative", "axis": null}, "y2": {"datum": 64.36}}},
{"data": {"name": "one"}, "mark": {"type": "text", "text": "WIND SPEED", "fontSize": 9, "color": "#222", "align": "center", "baseline": "middle", "angle": 270}, "encoding": {"x": {"datum": 6.18, "type": "quantitative", "axis": null}, "y": {"datum": 38.55, "type": "quantitative", "axis": null}}},
{"data": {"name": "one"}, "mark": {"type": "text", "text": "WIND GUSTS", "fontSize": 9, "color": "#222", "align": "center", "baseline": "middle", "angle": 270}, "encoding": {"x": {"datum": 7.407, "type": "quantitative", "axis": null}, "y": {"datum": 41.8, "type": "quantitative", "axis": null}}},
{"data": {"name": "one"}, "mark": {"type": "text", "text": "PRESSURE", "fontSize": 9, "color": "#222", "align": "center", "baseline": "middle", "angle": 270}, "encoding": {"x": {"datum": 33.01, "type": "quantitative", "axis": null}, "y": {"datum": 30.55, "type": "quantitative", "axis": null}}},
{"data": {"name": "one"}, "mark": {"type": "text", "text": "24 HOURS TO 21/Dec/24 8:00 AM. AEDT", "fontSize": 8.5, "color": "#333", "align": "left", "baseline": "middle"}, "encoding": {"x": {"datum": 6.289, "type": "quantitative", "axis": null}, "y": {"datum": -6.83, "type": "quantitative", "axis": null}}},
{"data": {"name": "one"}, "mark": {"type": "rect", "fill": "#ffffff", "stroke": "#3b5168", "strokeWidth": 1, "cornerRadius": 3}, "encoding": {"x": {"datum": 16.747, "type": "quantitative", "axis": null}, "x2": {"datum": 21.543}, "y": {"datum": -2.77, "type": "quantitative", "axis": null}, "y2": {"datum": -10.3}}},
{"data": {"name": "one"}, "mark": {"type": "rect", "fill": "#ffffff", "stroke": "#98a7b6", "strokeWidth": 1, "cornerRadius": 3}, "encoding": {"x": {"datum": 21.9, "type": "quantitative", "axis": null}, "x2": {"datum": 26.7}, "y": {"datum": -2.77, "type": "quantitative", "axis": null}, "y2": {"datum": -10.3}}},
{"data": {"name": "one"}, "mark": {"type": "rect", "fill": "#ffffff", "stroke": "#ff4aa5", "strokeWidth": 1, "cornerRadius": 3}, "encoding": {"x": {"datum": 27.06, "type": "quantitative", "axis": null}, "x2": {"datum": 31.82}, "y": {"datum": -2.77, "type": "quantitative", "axis": null}, "y2": {"datum": -10.3}}},
{"data": {"name": "one"}, "mark": {"type": "rect", "fill": "#3b5168"}, "encoding": {"x": {"datum": 20.79, "type": "quantitative", "axis": null}, "x2": {"datum": 21.543}, "y": {"datum": -2.77, "type": "quantitative", "axis": null}, "y2": {"datum": -10.3}}},
{"data": {"name": "one"}, "mark": {"type": "rect", "fill": "#98a7b6"}, "encoding": {"x": {"datum": 25.92, "type": "quantitative", "axis": null}, "x2": {"datum": 26.7}, "y": {"datum": -2.77, "type": "quantitative", "axis": null}, "y2": {"datum": -10.3}}},
{"data": {"name": "one"}, "mark": {"type": "rect", "fill": "#ff4aa5"}, "encoding": {"x": {"datum": 31.045, "type": "quantitative", "axis": null}, "x2": {"datum": 31.82}, "y": {"datum": -2.77, "type": "quantitative", "axis": null}, "y2": {"datum": -10.3}}},
{"data": {"name": "one"}, "mark": {"type": "rect", "fill": "#ffffff"}, "encoding": {"x": {"datum": 21.02, "type": "quantitative", "axis": null}, "x2": {"datum": 21.31}, "y": {"datum": -6.2, "type": "quantitative", "axis": null}, "y2": {"datum": -6.9}}},
{"data": {"name": "one"}, "mark": {"type": "rect", "fill": "#ffffff"}, "encoding": {"x": {"datum": 26.17, "type": "quantitative", "axis": null}, "x2": {"datum": 26.46}, "y": {"datum": -6.2, "type": "quantitative", "axis": null}, "y2": {"datum": -6.9}}},
{"data": {"name": "one"}, "mark": {"type": "rect", "fill": "#ffffff"}, "encoding": {"x": {"datum": 31.28, "type": "quantitative", "axis": null}, "x2": {"datum": 31.57}, "y": {"datum": -6.2, "type": "quantitative", "axis": null}, "y2": {"datum": -6.9}}},
{"data": {"name": "one"}, "mark": {"type": "text", "text": "Wind Speed (km/h)", "fontSize": 9, "fontWeight": 600, "color": "#222", "align": "left", "baseline": "middle"}, "encoding": {"x": {"datum": 17.017, "type": "quantitative", "axis": null}, "y": {"datum": -6.53, "type": "quantitative", "axis": null}}},
{"data": {"name": "one"}, "mark": {"type": "text", "text": "Wind Gusts (km/h)", "fontSize": 9, "fontWeight": 600, "color": "#222", "align": "left", "baseline": "middle"}, "encoding": {"x": {"datum": 22.156, "type": "quantitative", "axis": null}, "y": {"datum": -6.53, "type": "quantitative", "axis": null}}},
{"data": {"name": "one"}, "mark": {"type": "text", "text": "Pressure (hPa)", "fontSize": 9, "fontWeight": 600, "color": "#222", "align": "left", "baseline": "middle"}, "encoding": {"x": {"datum": 27.3, "type": "quantitative", "axis": null}, "y": {"datum": -6.53, "type": "quantitative", "axis": null}}}
],
"resolve": {"axis": {"x": "independent", "y": "independent"}}
},
{"data": {"name": "pres"}, "mark": {"type": "line", "stroke": "#ff4aa5", "strokeWidth": 2}, "encoding": {
  "x": {"field": "h", "type": "quantitative", "axis": null},
  "y": {"field": "p", "type": "quantitative", "scale": {"domain": [1005, 1016.667], "nice": false, "zero": false}, "axis": {"orient": "right", "values": [1005, 1010, 1015], "format": "d", "domain": false, "ticks": false, "tickSize": 0, "grid": false, "labelPadding": 3, "labelOffset": -3, "labelFontSize": 9, "labelColor": "#333", "title": null, "zindex": 1}}}},
{"data": {"name": "arrows"}, "mark": {"type": "point", "shape": "M0,-1L0.75,0.8L0,0.35L-0.75,0.8Z", "filled": true, "size": 250, "opacity": 1, "stroke": "#6d7f95", "strokeWidth": 0.4}, "encoding": {
  "x": {"field": "h", "type": "quantitative", "axis": null},
  "y": {"field": "s", "type": "quantitative", "scale": {"domain": [0, 70], "nice": false, "zero": false}, "axis": null},
  "color": {"field": "s", "type": "quantitative", "scale": {"type": "threshold", "domain": [20, 30], "range": ["#4b7fe8", "#5ce07e", "#f3ef7c"]}, "legend": null},
  "angle": {"field": "dir", "type": "quantitative", "scale": {"domain": [0, 360], "range": [0, 360]}}}}
],
"resolve": {"scale": {"y": "independent"}, "axis": {"x": "independent"}}
}
],
"spacing": 140,
"bounds": "flush"
}
